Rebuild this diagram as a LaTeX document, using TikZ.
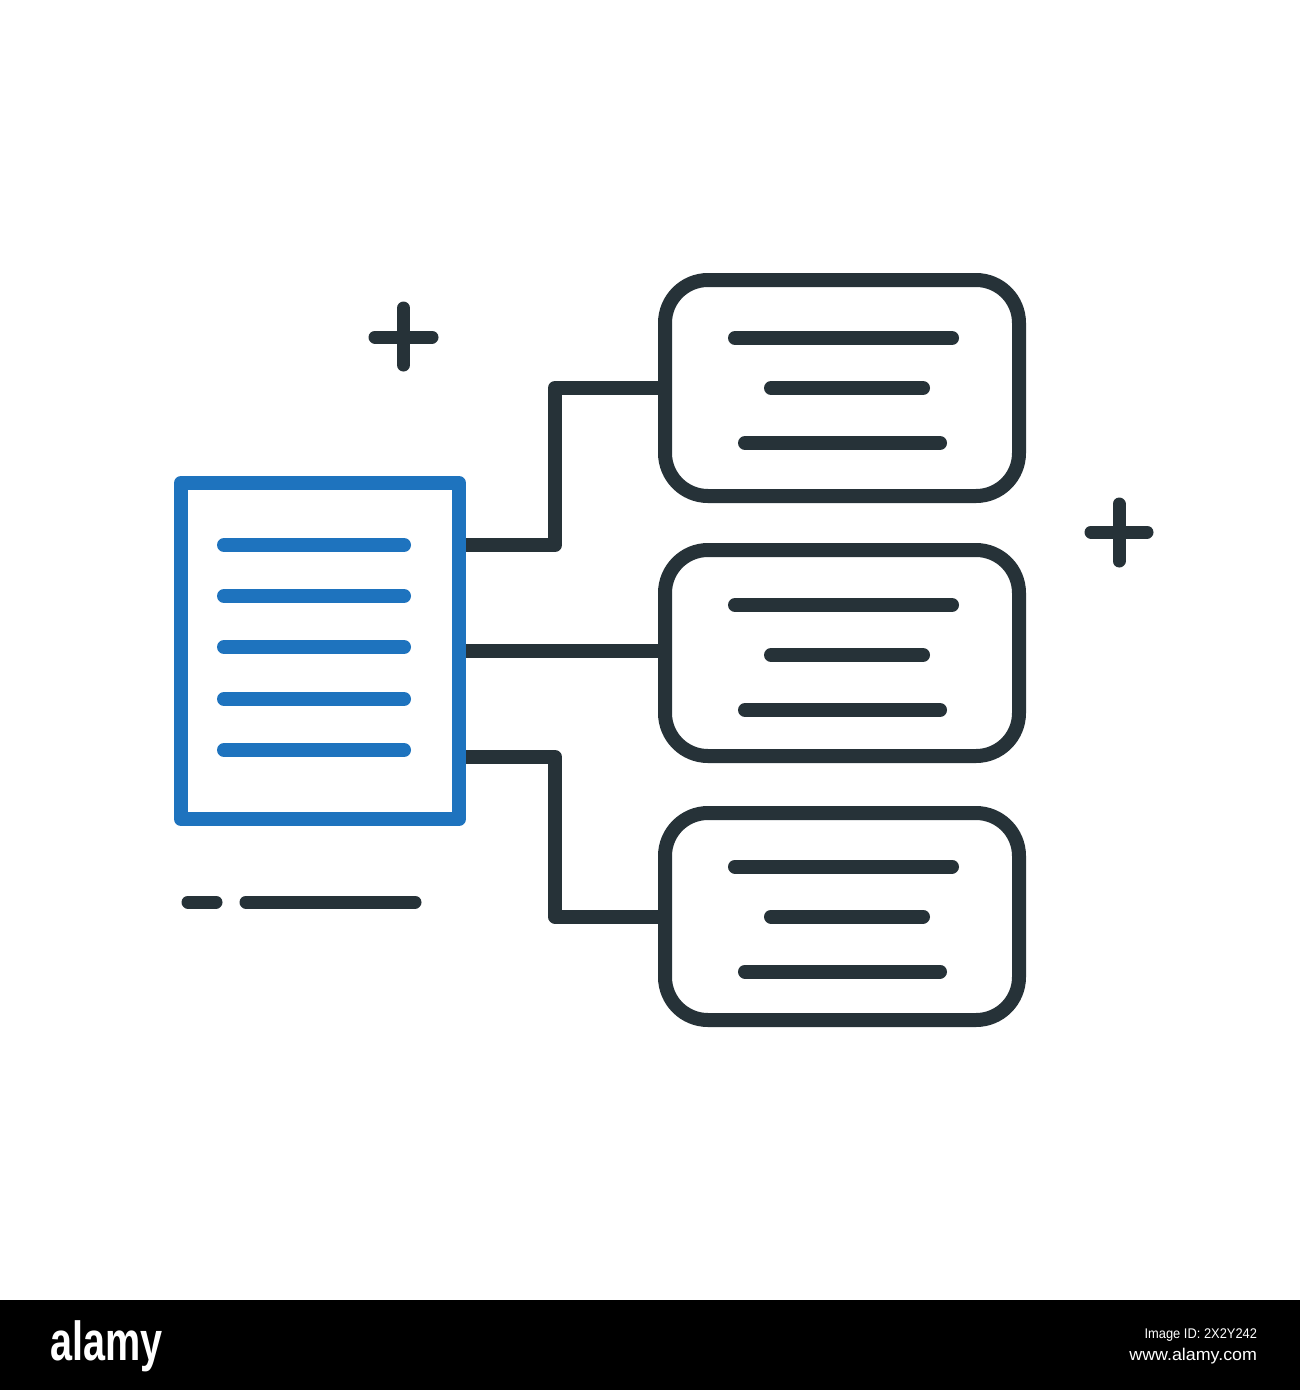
\documentclass[tikz,border=0pt]{standalone}
\usepackage{fontspec}
\setmainfont{Liberation Sans}
\definecolor{ink}{RGB}{38,50,56}
\definecolor{docblue}{RGB}{30,115,190}
\tikzset{
  docbox/.style={draw=docblue, line width=14pt, line join=round, inner sep=0pt, outer sep=7pt, fill=white},
  cardbox/.style={draw=ink, line width=14pt, rounded corners=43pt, inner sep=0pt, outer sep=0pt, minimum width=354pt, fill=white},
  bluebar/.style={draw=docblue, line width=14pt, line cap=round},
  inkbar/.style={draw=ink, line width=14pt, line cap=round},
  conn/.style={draw=ink, line width=14pt, line join=round},
  banner/.style={text=white, inner sep=0pt, outer sep=0pt}
}
\begin{document}
\begin{tikzpicture}[x=1pt, y=-1pt]
\useasboundingbox (0,0) rectangle (1300,1390);
\fill[white] (0,0) rectangle (1300,1390);

% junction column
\coordinate (jx) at (555,0);

% document
\node[docbox, minimum width=278pt, minimum height=336pt] (doc) at (320,651) {};
\foreach \yy in {545,596,647,699,750} {
  \draw[bluebar] (224,\yy) -- (404,\yy);
}

% cards
\node[cardbox, minimum height=216pt] (b1) at (842,388) {};
\node[cardbox, minimum height=206pt] (b2) at (842,653) {};
\node[cardbox, minimum height=207pt] (b3) at (842,916.5) {};

% connectors
\draw[conn] ([yshift=106pt]doc.east) -| (jx |- b1.west) -- (b1.west);
\draw[conn] (doc.east) -- (doc.east -| b2.west);
\draw[conn] ([yshift=-106pt]doc.east) -| (jx |- b3.west) -- (b3.west);

% card lines
\foreach \cy in {388,655,916.5} {
  \draw[inkbar] (735,\cy-50) -- (952,\cy-50);
  \draw[inkbar] (771,\cy) -- (923,\cy);
  \draw[inkbar] (745,\cy+55) -- (940,\cy+55);
}

% plus signs
\draw[inkbar, line width=13pt] (375,337) -- (432,337) (403.5,308) -- (403.5,365);
\draw[inkbar, line width=13pt] (1091,532) -- (1147,532) (1119,504) -- (1119,561);

% dashes under document
\draw[inkbar, line width=13pt] (188,902) -- (216,902);
\draw[inkbar, line width=13pt] (246,902) -- (415,902);

% banner
\fill[black] (0,1300) rectangle (1300,1390);
\node[banner, anchor=base west] (logo) at (50,1360)
  {\fontsize{55}{55}\selectfont\bfseries\scalebox{0.72}[1]{alamy}};
\node[banner, anchor=base east] (imgid) at (1257,1338)
  {\fontsize{14}{14}\selectfont\scalebox{0.92}[1]{Image ID: 2X2Y242}};
\node[banner, anchor=base east] (site) at (1257,1360)
  {\fontsize{17}{17}\selectfont\scalebox{1.05}[1]{www.alamy.com}};
\end{tikzpicture}
\end{document}
